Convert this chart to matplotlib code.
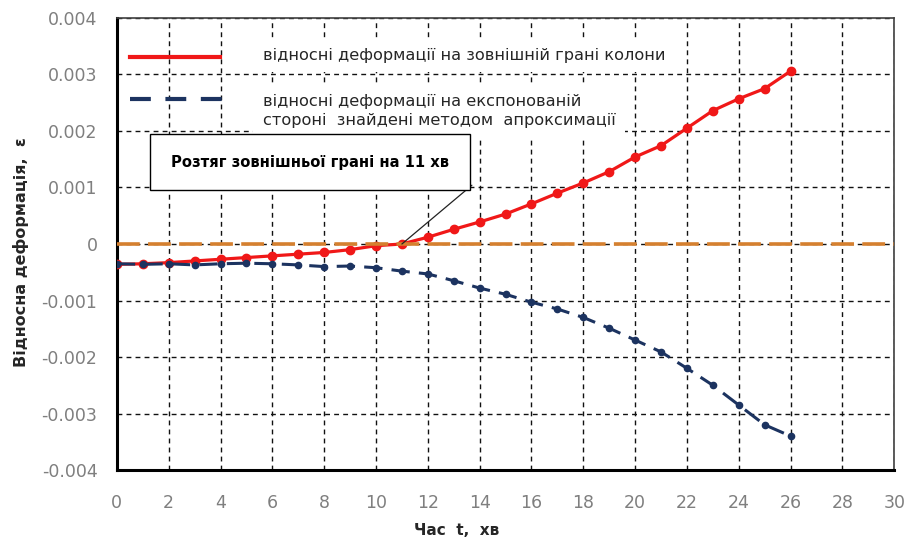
import matplotlib
matplotlib.use("Agg")
import matplotlib.pyplot as plt
from matplotlib.lines import Line2D

plt.rcParams['font.family'] = ['DejaVu Sans']
plt.rcParams['axes.unicode_minus'] = False

# час, хв
t = list(range(27))

# відносні деформації на зовнішній грані колони
outer = [-0.00036, -0.00035, -0.00033, -0.00030, -0.00027, -0.00024, -0.00021,
         -0.00018, -0.00015, -0.00010, -0.00003, 0.00000, 0.00012, 0.00026,
         0.00039, 0.00053, 0.00071, 0.00090, 0.00108, 0.00128, 0.00154,
         0.00174, 0.00205, 0.00236, 0.00257, 0.00275, 0.00306]

# відносні деформації на експонованій стороні (апроксимація)
exposed = [-0.00035, -0.00036, -0.00035, -0.00037, -0.00035, -0.00034, -0.00035,
           -0.00037, -0.00040, -0.00039, -0.00042, -0.00048, -0.00053, -0.00065,
           -0.00078, -0.00089, -0.00103, -0.00115, -0.00130, -0.00149, -0.00170,
           -0.00191, -0.00220, -0.00250, -0.00285, -0.00320, -0.00340]

zero_x = [0, 30]
zero_y = [0, 0]

xticks = list(range(0, 31, 2))
yticks = [0.004, 0.003, 0.002, 0.001, 0, -0.001, -0.002, -0.003, -0.004]
ytick_labels = ['0.004', '0.003', '0.002', '0.001', '0', '-0.001', '-0.002', '-0.003', '-0.004']

label_outer = 'відносні деформації на зовнішній грані колони'
label_exposed = 'відносні деформації на експонованій\nстороні  знайдені методом  апроксимації'
note = 'Розтяг зовнішньої грані на 11 хв'

red = '#f01818'
navy = '#1c3360'
orange = '#d5802f'
gray = '#7f7f7f'

fig = plt.figure(figsize=(9.06, 5.43), dpi=100)
ax = fig.add_axes([0.129, 0.1344, 0.858, 0.8325])

ax.plot(t, outer, color=red, lw=2.3, marker='o', ms=6, zorder=4)
ax.plot(t, exposed, color=navy, lw=2.2, dashes=(6, 3), marker='o', ms=4.5, zorder=4)
ax.plot(zero_x, zero_y, color=orange, lw=2.6, dashes=(6.3, 2.3), zorder=5)

ax.set_xlim(0, 30)
ax.set_ylim(-0.004, 0.004)
ax.set_xticks(xticks)
ax.set_yticks(yticks)
ax.set_yticklabels(ytick_labels)
ax.tick_params(length=0, labelsize=12.5, labelcolor=gray)
ax.tick_params(axis='y', pad=14)
ax.tick_params(axis='x', pad=17)

ax.set_axisbelow(True)
ax.grid(True, color='#111111', lw=1.0, dashes=(3.5, 3))

for side in ('left', 'bottom'):
    ax.spines[side].set_linewidth(2.2)
    ax.spines[side].set_color('black')
for side in ('top', 'right'):
    ax.spines[side].set_linewidth(1.2)
    ax.spines[side].set_color('#404040')

ax.set_ylabel('Відносна деформація,  ε', fontsize=11.5, fontweight='bold', color='#262626')
ax.yaxis.set_label_coords(-0.113, 0.482)
ax.set_xlabel('Час  t,  хв', fontsize=11, fontweight='bold', color='#262626')
ax.xaxis.set_label_coords(0.437, -0.118)

# legend drawn by hand so that text boxes cover the grid
ax.add_line(Line2D([0.0167, 0.1326], [0.9137, 0.9137], transform=ax.transAxes,
                   color=red, lw=3, zorder=6))
ax.add_line(Line2D([0.0167, 0.152], [0.821, 0.821], transform=ax.transAxes,
                   color=navy, lw=3, dashes=(5, 3.5), zorder=6))
box = dict(facecolor='white', edgecolor='none', pad=7)
ax.text(0.188, 0.918, label_outer, transform=ax.transAxes, fontsize=11.6,
        color='#262626', va='center', ha='left', bbox=box, zorder=6)
ax.text(0.188, 0.794, label_exposed, transform=ax.transAxes, fontsize=11.6,
        color='#262626', va='center', ha='left', linespacing=1.3, bbox=box, zorder=6)

ax.annotate('', xy=(11, 0), xytext=(13.7, 0.00104),
            arrowprops=dict(arrowstyle='-', color='#222222', lw=0.9, shrinkA=0, shrinkB=0),
            zorder=6)
ax.text(7.45, 0.00145, note, fontsize=10.6, fontweight='bold', color='black',
        ha='center', va='center', zorder=7,
        bbox=dict(facecolor='white', edgecolor='black', lw=1.0, pad=15))

fig.savefig('out.png', dpi=100)
